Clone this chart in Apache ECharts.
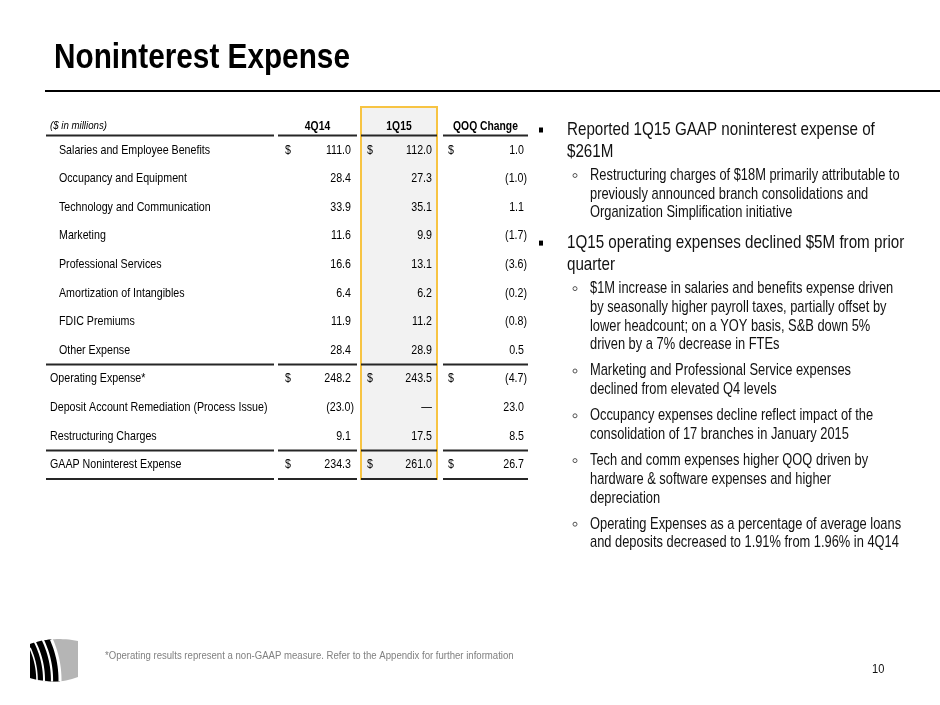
<!DOCTYPE html>
<html>
<head>
<meta charset="utf-8">
<script src="https://cdn.jsdelivr.net/npm/echarts@6/dist/echarts.min.js"></script>
<style>
html,body{margin:0;padding:0;background:#fff}
#main{width:940px;height:705px}
</style>
</head>
<body>
<div id="main"></div>
<script>
// no Arial Narrow here: Liberation Sans squeezed horizontally
var FONT = "'Liberation Sans',Arial,sans-serif";
var NARROW = 0.82;

// table data ($ in millions)
var unitNote = '($ in millions)';
var rowNames = ['Salaries and Employee Benefits', 'Occupancy and Equipment', 'Technology and Communication',
  'Marketing', 'Professional Services', 'Amortization of Intangibles', 'FDIC Premiums', 'Other Expense',
  'Operating Expense*', 'Deposit Account Remediation (Process Issue)', 'Restructuring Charges',
  'GAAP Noninterest Expense'];
var periods = ['4Q14', '1Q15', 'QOQ Change'];
var q4_14 = [111.0, 28.4, 33.9, 11.6, 16.6, 6.4, 11.9, 28.4, 248.2, -23.0, 9.1, 234.3];
var q1_15 = [112.0, 27.3, 35.1, 9.9, 13.1, 6.2, 11.2, 28.9, 243.5, null, 17.5, 261.0];
var qoqChange = [1.0, -1.0, 1.1, -1.7, -3.6, -0.2, -0.8, 0.5, -4.7, 23.0, 8.5, 26.7];
var subRows = [0, 1, 2, 3, 4, 5, 6, 7];     // indented detail lines
var dollarRows = [0, 8, 11];                // rows with a $ sign
var ruleUnder = [-1, 7, 10, 11];            // rules under header (-1) and these rows

// commentary on the right
var bulletItems = [
  {level: 1, lines: ['Reported 1Q15 GAAP noninterest expense of', '$261M']},
  {level: 2, lines: ['Restructuring charges of $18M primarily attributable to', 'previously announced branch consolidations and', 'Organization Simplification initiative']},
  {level: 1, lines: ['1Q15 operating expenses declined $5M from prior', 'quarter']},
  {level: 2, lines: ['$1M increase in salaries and benefits expense driven', 'by seasonally higher payroll taxes, partially offset by', 'lower headcount; on a YOY basis, S&B down 5%', 'driven by a 7% decrease in FTEs']},
  {level: 2, lines: ['Marketing and Professional Service expenses', 'declined from elevated Q4 levels']},
  {level: 2, lines: ['Occupancy expenses decline reflect impact of the', 'consolidation of 17 branches in January 2015']},
  {level: 2, lines: ['Tech and comm expenses higher QOQ driven by', 'hardware & software expenses and higher', 'depreciation']},
  {level: 2, lines: ['Operating Expenses as a percentage of average loans', 'and deposits decreased to 1.91% from 1.96% in 4Q14']}
];
var footNote = '*Operating results represent a non-GAAP measure. Refer to the Appendix for further information';
var pageNo = '10';

var axisRows = [unitNote].concat(rowNames);
var cellData = axisRows.map(function (n, i) { return [0, i]; });

function fmt(v) {
  if (v === null) return '\u2014';
  if (v < 0) return '(' + Math.abs(v).toFixed(1) + ')';
  return v.toFixed(1);
}

function txt(s, x, y, align, vAlign, font, fill, sx) {
  return {type: 'text', x: x, y: y, scaleX: sx || NARROW,
    style: {text: s, x: 0, y: 0, align: align, textAlign: align,
      verticalAlign: vAlign, textVerticalAlign: vAlign, font: font, fill: fill || '#000'}};
}

function rule(cs, y) {
  return {type: 'line', shape: {x1: cs.x, y1: y, x2: cs.x + cs.width, y2: y},
    style: {stroke: '#262626', lineWidth: 2}};
}

var CELL_FONT = '13px ' + FONT;

function labelRender(params, api) {
  var row = api.value(1);
  var cs = params.coordSys;
  var y = api.coord([0, row])[1];
  var band = api.size([0, 1])[1];
  var kids = [];
  if (row === 0) {
    kids.push(txt(unitNote, cs.x + 4, y + band / 2 - 4, 'left', 'bottom', 'italic 11.8px ' + FONT));
  } else {
    var ind = subRows.indexOf(row - 1) >= 0 ? 13 : 4;
    kids.push(txt(rowNames[row - 1], cs.x + ind, y, 'left', 'middle', CELL_FONT));
  }
  if (ruleUnder.indexOf(row - 1) >= 0) kids.push(rule(cs, y + band / 2));
  return {type: 'group', children: kids};
}

function valueRender(col, values, pad) {
  return function (params, api) {
    var row = api.value(1);
    var cs = params.coordSys;
    var y = api.coord([0, row])[1];
    var band = api.size([0, 1])[1];
    var kids = [];
    if (row === 0) {
      kids.push(txt(periods[col], cs.x + cs.width / 2, y + band / 2 - 3, 'center', 'bottom', 'bold 12.6px ' + FONT));
    } else {
      var v = values[row - 1];
      var right = cs.x + cs.width - (v !== null && v < 0 ? pad.paren : pad.plain);
      kids.push(txt(fmt(v), right, y, 'right', 'middle', CELL_FONT));
      if (dollarRows.indexOf(row - 1) >= 0) kids.push(txt('$', cs.x + pad.dollar, y, 'left', 'middle', CELL_FONT));
    }
    if (ruleUnder.indexOf(row - 1) >= 0) kids.push(rule(cs, y + band / 2));
    return {type: 'group', children: kids};
  };
}

var colBoxes = [
  {left: 46, width: 228},
  {left: 278, width: 79, pad: {dollar: 7, plain: 6, paren: 3}},
  {left: 361, width: 76, pad: {dollar: 6, plain: 5, paren: 2}},
  {left: 443, width: 85, pad: {dollar: 5, plain: 4, paren: 1}}
];
var colValues = [null, q4_14, q1_15, qoqChange];

var grids = [], xAxes = [], yAxes = [], series = [];
colBoxes.forEach(function (c, i) {
  var g = {left: c.left, width: c.width, top: 107, height: 372};
  if (i === 2) {
    g.show = true; g.backgroundColor = '#f2f2f2'; g.borderColor = '#f7c443'; g.borderWidth = 2;
  }
  grids.push(g);
  xAxes.push({type: 'value', gridIndex: i, min: 0, max: 1, show: false});
  yAxes.push({type: 'category', gridIndex: i, data: axisRows, inverse: true, show: false});
  series.push({
    type: 'custom', xAxisIndex: i, yAxisIndex: i, data: cellData, silent: true,
    renderItem: i === 0 ? labelRender : valueRender(i - 1, colValues[i], c.pad)
  });
});

// page decoration: title, rule, commentary, footer, logo
var graphics = [];
graphics.push(txt('Noninterest Expense', 54, 58, 'left', 'middle', 'bold 35px ' + FONT, '#000', 0.85));
graphics.push({type: 'line', shape: {x1: 45, y1: 91, x2: 940, y2: 91}, style: {stroke: '#000', lineWidth: 2}});

var cy = 130, prev = null;
bulletItems.forEach(function (b) {
  if (prev) {
    if (b.level === 1) cy += 30;
    else if (prev.level === 1) cy += 24;
    else cy += 26;
  }
  var lh = b.level === 1 ? 21.5 : 18.8;
  var fs = b.level === 1 ? 18.5 : 15.7;
  var x = b.level === 1 ? 567 : 590;
  if (b.level === 1) {
    graphics.push({type: 'rect', shape: {x: 539, y: cy - 2.5, width: 4, height: 5}, style: {fill: '#000'}});
  } else {
    graphics.push({type: 'circle', shape: {cx: 575, cy: cy, r: 2}, style: {fill: 'none', stroke: '#555', lineWidth: 1}});
  }
  b.lines.forEach(function (l, k) {
    graphics.push(txt(l, x, cy + k * lh, 'left', 'middle', fs + 'px ' + FONT, '#111'));
  });
  cy += (b.lines.length - 1) * lh;
  prev = b;
});

graphics.push(txt(footNote, 105, 656, 'left', 'middle', '11.7px ' + FONT, '#808080'));
graphics.push(txt(pageNo, 872, 669, 'left', 'middle', '13.5px ' + FONT, '#111'));

// logo, built from sampled curves
function quadPts(p0, c, p1, n) {
  var out = [];
  for (var k = 0; k <= n; k++) {
    var t = k / n, u = 1 - t;
    out.push([u * u * p0[0] + 2 * u * t * c[0] + t * t * p1[0], u * u * p0[1] + 2 * u * t * c[1] + t * t * p1[1]]);
  }
  return out;
}
function arcPts(cx, cy0, r, a0, a1, n) {
  var out = [];
  for (var k = 0; k <= n; k++) {
    var a = a0 + (a1 - a0) * k / n;
    out.push([cx + r * Math.cos(a), cy0 + r * Math.sin(a)]);
  }
  return out;
}
var logoOuter = quadPts([30, 644], [54, 636], [78, 641], 16).concat(quadPts([78, 677], [54, 686], [30, 678], 16));
graphics.push({type: 'polygon', shape: {points: logoOuter}, style: {fill: '#b5b5b5'}});
var blackPart = quadPts([30, 644], [41.5, 640], [51.4, 639.4], 8)
  .concat(arcPts(-40, 680, 100, Math.atan2(-40.6, 91.4), Math.atan2(1.4, 100), 16))
  .concat(quadPts([60, 681.4], [45, 682], [30, 678], 8));
graphics.push({type: 'polygon', shape: {points: blackPart}, style: {fill: '#000'}});
[[100, 3], [92, 2.2], [84, 2], [77, 1.6]].forEach(function (a) {
  var r = a[0];
  var dx = Math.sqrt(r * r - 40.5 * 40.5);
  var start = (-40 + dx >= 30) ? Math.atan2(-40.5, dx) : -Math.acos(70 / r);
  graphics.push({type: 'polyline', shape: {points: arcPts(-40, 680, r, start, 0.015, 14)},
    style: {stroke: '#fff', lineWidth: a[1], fill: null}});
});

var chart = echarts.init(document.getElementById('main'), null, {renderer: 'canvas'});
chart.setOption({
  animation: false,
  backgroundColor: '#fff',
  grid: grids,
  xAxis: xAxes,
  yAxis: yAxes,
  series: series,
  graphic: {elements: graphics}
});
</script>
</body>
</html>
